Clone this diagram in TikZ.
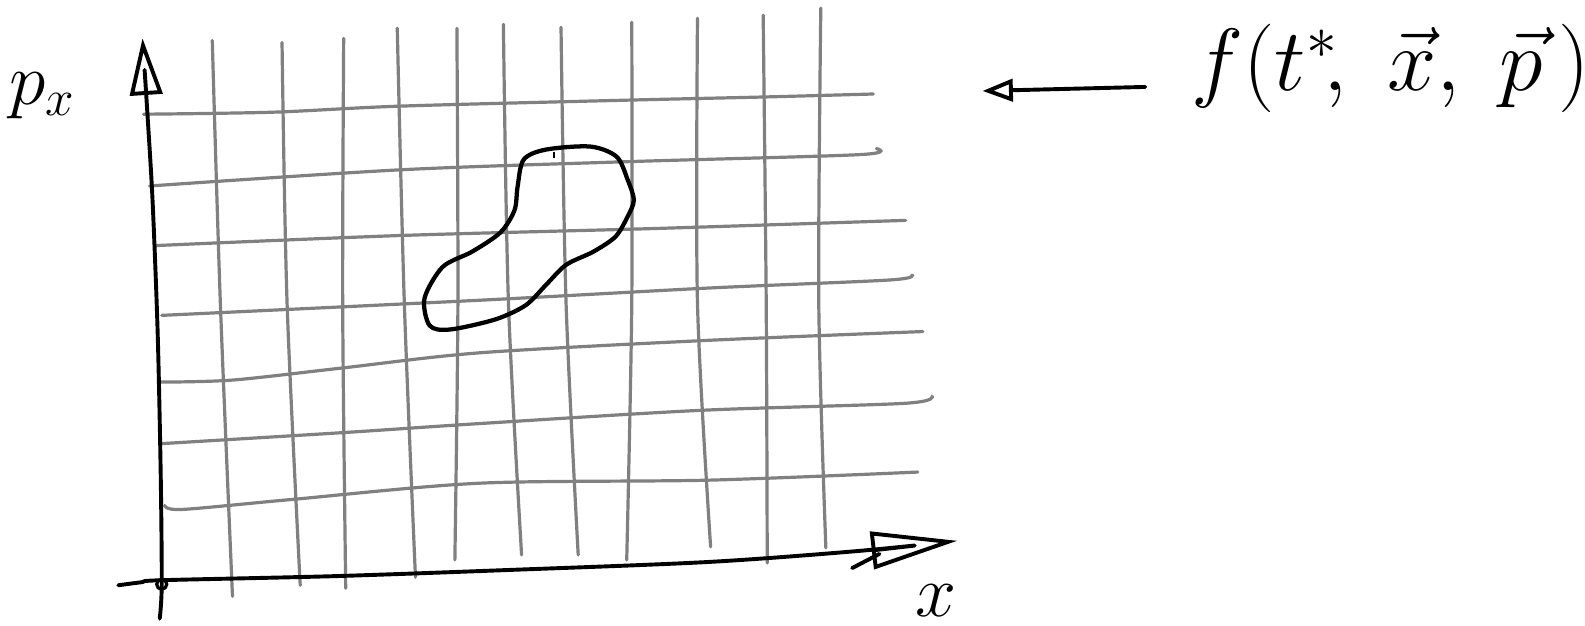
\documentclass[tikz,border=0pt]{standalone}
\usepackage{xcolor}
\usepackage{tikz}
\usetikzlibrary{arrows.meta, positioning}

\begin{document}
\begin{tikzpicture}[
    x=0.01cm, y=-0.01cm,
    gridline/.style = {draw=gray, line width=0.9pt, line cap=round},
    axis/.style = {draw=black, line width=1.1pt, line cap=round, line join=round},
    blob/.style = {draw=black, line width=1.2pt},
    xarrow/.style = {-{Triangle[open, length=0.85cm, width=0.37cm]}},
    yarrow/.style = {-{Triangle[open, length=0.56cm, width=0.32cm]}},
    farrow/.style = {-{Triangle[open, length=0.3cm, width=0.22cm]}},
    label/.style = {inner sep=0pt, text=black}
]
\useasboundingbox (0,0) rectangle (1568,619);

% Grid, vertical strokes
\foreach \xt/\yt/\xm/\xb/\yb in {210/40/218/230/590, 279/42/284/297/579, 340/38/339/342/582,
    393/28/400/411/571, 452/28/453/450/554, 498/24/503/516/549, 555/27/560/572/549,
    625/22/625/620/554, 690/18/690/703/541, 755/15/758/759/557, 812/8/810/817/542}
  \draw[gridline] plot[smooth] coordinates {(\xt,\yt) (\xm,300) (\xb,\yb)};

% Grid, horizontal strokes
\draw[gridline] plot[smooth] coordinates {(142,113) (270,111) (396,105) (624,99) (754,96) (864,93)};
\draw[gridline] plot[smooth] coordinates {(148,184) (396,168) (619,160) (850,153) (867,147)};
\draw[gridline] plot[smooth] coordinates {(153,243) (396,233) (650,226) (896,218)};
\draw[gridline] plot[smooth] coordinates {(160,312) (475,297) (700,285) (880,277) (902,272)};
\draw[gridline] plot[smooth] coordinates {(158,378) (230,376) (339,364) (475,349) (694,337) (913,328)};
\draw[gridline] plot[smooth] coordinates {(158,439) (339,428) (475,419) (692,406) (895,399) (922,392)};
\draw[gridline] plot[smooth] coordinates {(163,500) (180,504) (290,494) (475,478) (702,475) (908,467)};

% Region
\draw[blob] plot[smooth cycle] coordinates {(512,185) (518,158) (540,148) (584,145) (610,155) (621,178)
    (627,198) (621,214) (609,234) (587,249) (560,262) (540,282) (520,302) (490,316) (445,326)
    (425,322) (420,295) (438,264) (467,249) (495,230) (509,208)};
\draw[blob, line width=0.8pt] (548,150) -- (548,156);

% Axes
\coordinate (origin) at (160,578);
\draw[axis, yarrow] plot[smooth] coordinates {(158,612) (160,578) (159,470) (156,330) (151,200) (146,115) (141,38)};
\draw[axis, xarrow] plot[smooth] coordinates {(117,579) (140,576) (160,574) (330,570) (500,564) (700,556) (850,545) (947,535)};
\draw[axis, line width=0.9pt] (origin) circle[radius=5];
\draw[axis] (843,562) -- (870,548);

% Labels
\node[label] (pxlabel) at (42,95) {\fontsize{21}{25}\selectfont $p_x$};
\node[label] (xlabel) at (926,594) {\fontsize{20}{24}\selectfont $x$};
\node[label, anchor=west] (fexpr) at (1178,68) {\fontsize{26}{32}\selectfont $f(t^*\!,\; \vec{x},\; \vec{p}\,)$};

% Arrow
\coordinate (target) at (972,90);
\draw[axis, farrow] ([xshift=-0.45cm, yshift=-0.18cm]fexpr.west) -- (target);

\end{tikzpicture}
\end{document}
